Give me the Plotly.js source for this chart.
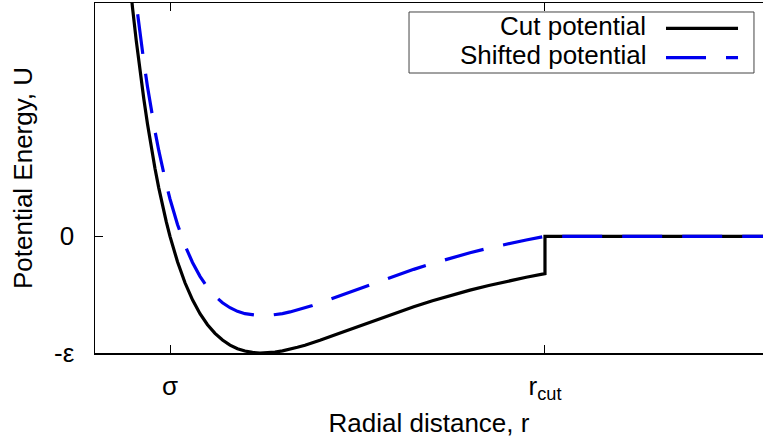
<!DOCTYPE html>
<html>
<head>
<meta charset="utf-8">
<script src="https://cdn.plot.ly/plotly-3.0.1.min.js"></script>
<style>html,body{margin:0;padding:0;background:#fff;}#chart{width:763px;height:438px;}</style>
</head>
<body>
<div id="chart"></div>
<script>
// Radial distance (in units of sigma)
const rValues = [0.940, 0.945, 0.950, 0.955, 0.960, 0.965, 0.970, 0.975, 0.980, 0.985, 0.990, 0.995, 1.000,
  1.010, 1.020, 1.030, 1.040, 1.050, 1.060, 1.070, 1.080, 1.090, 1.100, 1.110, 1.120, 1.130, 1.140, 1.150, 1.160, 1.170, 1.180, 1.190, 1.200,
  1.225, 1.250, 1.275, 1.300, 1.325, 1.350, 1.375, 1.400, 1.425, 1.450, 1.475, 1.500,
  1.500, 1.800];
// Cut potential (in units of epsilon)
const cutU = [2.607, 2.270, 1.961, 1.678, 1.418, 1.181, 0.963, 0.764, 0.582, 0.416, 0.264, 0.126, 0.000,
  -0.218, -0.398, -0.544, -0.663, -0.758, -0.832, -0.889, -0.932, -0.963, -0.983, -0.995, -1.000, -0.999, -0.992, -0.982, -0.968, -0.951, -0.933, -0.913, -0.891,
  -0.833, -0.774, -0.714, -0.657, -0.603, -0.552, -0.504, -0.461, -0.421, -0.384, -0.351, -0.320,
  0.000, 0.000];
// Shifted potential (in units of epsilon)
const shiftedU = [2.927, 2.590, 2.281, 1.998, 1.738, 1.501, 1.283, 1.084, 0.902, 0.736, 0.584, 0.446, 0.320,
  0.102, -0.078, -0.224, -0.343, -0.438, -0.512, -0.569, -0.612, -0.643, -0.663, -0.675, -0.680, -0.679, -0.672, -0.662, -0.648, -0.631, -0.613, -0.593, -0.571,
  -0.513, -0.454, -0.394, -0.337, -0.283, -0.232, -0.184, -0.141, -0.101, -0.064, -0.031, 0.000,
  0.000, 0.000];

const seriesNames = ["Cut potential", "Shifted potential"];
const xTickVals = [1.0, 1.5];
const xTickText = ["σ", "r<sub>cut</sub>"];
const yTickVals = [-1, 0];
const yTickText = ["-ε", "0"];

const FONT = "Liberation Sans, Arial, sans-serif";
const FS = 26;

const traces = [
  {
    x: rValues, y: cutU, name: seriesNames[0], type: "scatter", mode: "lines",
    line: {color: "#000000", width: 3.2},
    showlegend: false
  },
  {
    x: rValues, y: shiftedU, name: seriesNames[1], type: "scatter", mode: "lines",
    line: {color: "#0000ee", width: 3.2, dash: "40px,20px"},
    showlegend: false
  }
];

// custom legend (text left of sample line, as in the reference)
const lx0 = 0.8548, lx1 = 0.9626;
const legendY = [0.9277, 0.8437];
const textY = [0.9343, 0.8514];
const layout = {
  width: 763, height: 438,
  margin: {l: 95, r: 0, t: 3, b: 85},
  paper_bgcolor: "#ffffff", plot_bgcolor: "#ffffff",
  font: {family: FONT, size: FS, color: "#000"},
  showlegend: false,
  xaxis: {
    range: [0.9, 1.7907],
    tickvals: xTickVals, ticktext: xTickText,
    ticks: "inside", ticklen: 8, tickwidth: 1, tickcolor: "#000",
    showline: true, linecolor: "#000", linewidth: 1.5, mirror: "ticks",
    showgrid: false, zeroline: false,
    tickfont: {family: FONT, size: FS, color: "#000"},
    ticklabelstandoff: 9,
    title: {text: "Radial distance, r", font: {family: FONT, size: FS, color: "#000"}, standoff: 10}
  },
  yaxis: {
    range: [-1, 2],
    tickvals: yTickVals, ticktext: yTickText,
    ticks: "inside", ticklen: 8, tickwidth: 1, tickcolor: "#000",
    showline: true, linecolor: "#000", linewidth: 1.5, mirror: false,
    showgrid: false, zeroline: false,
    tickfont: {family: FONT, size: FS, color: "#000"},
    ticklabelstandoff: 14,
    title: {text: "Potential Energy, U", font: {family: FONT, size: FS, color: "#000"}, standoff: 14}
  },
  shapes: [
    {type: "rect", xref: "paper", yref: "paper", x0: 0.4701, x1: 0.9865, y0: 0.80, y1: 0.9743,
     line: {color: "#444", width: 1}, fillcolor: "#ffffff", layer: "above"},
    {type: "line", xref: "paper", yref: "paper", x0: lx0, x1: lx1, y0: legendY[0], y1: legendY[0],
     line: {color: "#000", width: 3.2}, layer: "above"},
    {type: "line", xref: "paper", yref: "paper", x0: lx0, x1: lx1, y0: legendY[1], y1: legendY[1],
     line: {color: "#0000ee", width: 3.2, dash: "40px,20px"}, layer: "above"}
  ],
  annotations: [
    {xref: "paper", yref: "paper", x: 0.8278, y: textY[0], xanchor: "right", yanchor: "middle",
     text: seriesNames[0], showarrow: false, font: {family: FONT, size: FS, color: "#000"}},
    {xref: "paper", yref: "paper", x: 0.8278, y: textY[1], xanchor: "right", yanchor: "middle",
     text: seriesNames[1], showarrow: false, font: {family: FONT, size: FS, color: "#000"}}
  ]
};

Plotly.newPlot("chart", traces, layout, {staticPlot: true, displayModeBar: false});
</script>
</body>
</html>
